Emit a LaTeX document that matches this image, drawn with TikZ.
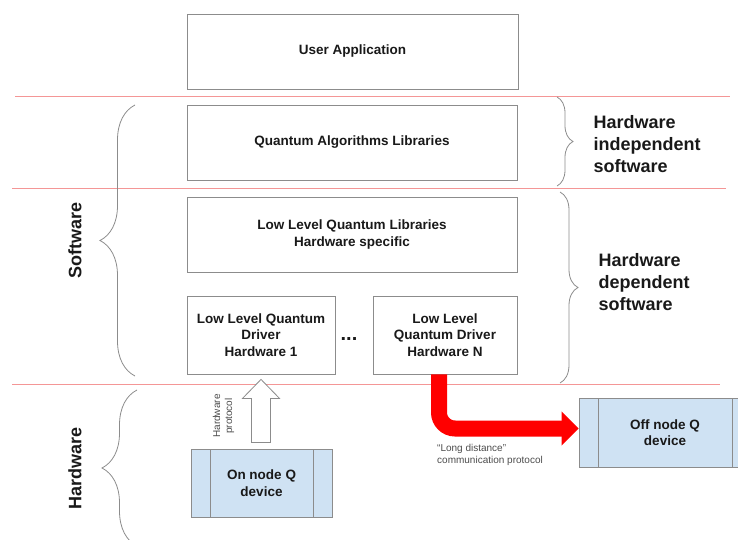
\documentclass[tikz,border=0pt]{standalone}
\usepackage{fontspec}
\setmainfont{Liberation Sans}
\usepackage{tikz}
\usetikzlibrary{calc,arrows.meta,decorations.pathreplacing}

\begin{document}
\begin{tikzpicture}
	[x=1pt,y=-1pt,line cap=butt,
	%Styles
	layer/.style={draw=black!45,line width=0.8pt,fill=white,align=center,text=black!90,
		font=\fontsize{13.5}{16.5}\selectfont\bfseries},
	qdevice/.style={layer,fill=qblue,
		path picture={\draw[black!45,line width=0.8pt]
			([xshift=19pt]path picture bounding box.north west) -- ([xshift=19pt]path picture bounding box.south west)
			([xshift=-19pt]path picture bounding box.north east) -- ([xshift=-19pt]path picture bounding box.south east);}},
	split line/.style={splitred,line width=1pt},
	grouping/.style={decorate,draw=black!45,line width=0.8pt},
	side text/.style={text=black!90,font=\fontsize{18}{22}\selectfont\bfseries,align=left},
	note text/.style={text=black!70,font=\fontsize{10}{12}\selectfont,align=left,inner sep=0pt},
	hwarrow/.style={draw=black!45,line width=0.8pt,fill=white,line join=miter},
	longarrow/.style={red,line width=16pt,rounded corners=16pt,-{Triangle[length=17pt,width=33pt]}}
	]
	
	%Colors
	\definecolor{qblue}{RGB}{207,226,243}	%quantum device boxes
	\definecolor{splitred}{RGB}{244,150,150}	%layer boundaries
	
	\path[use as bounding box,clip] (0,0) rectangle (738,540);
	
	%The graphic
	\node[layer,minimum width=331pt,minimum height=75pt] (app) at (352.5,51.5) {User Application};
	\node[layer,minimum width=330pt,minimum height=75pt] (algo) at (352,142.5) {Quantum Algorithms Libraries};
	\node[layer,minimum width=330pt,minimum height=75pt] (lowlib) at (352,234.5) {Low Level Quantum Libraries\\Hardware specific};
	\node[layer,minimum width=148pt,minimum height=78pt] (drv1) at (261,335) {Low Level Quantum\\Driver\\Hardware 1};
	\node[layer,minimum width=144pt,minimum height=78pt] (drvN) at (445,335) {Low Level\\Quantum Driver\\Hardware N};
	\node[text=black!90,font=\fontsize{20}{20}\selectfont\bfseries] (dots) at (349,339) {...};
	
	\node[qdevice,minimum width=141pt,minimum height=68pt] (onQ) at (261.5,483) {On node Q\\device};
	\node[qdevice,minimum width=172pt,minimum height=69pt] (offQ) at (665,432.5) {Off node Q\\device};
	
	%layer boundaries
	\draw[split line] (15,96.5) -- (730,96.5);
	\draw[split line] (12,188.5) -- (726,188.5);
	\draw[split line] (12,384.5) -- (720,384.5);
	
	%braces
	\draw[grouping,decoration={brace,amplitude=35pt}] (135,376) -- (135,105);
	\draw[grouping,decoration={brace,amplitude=35pt}] (137,546) -- (137,390);
	\draw[grouping,decoration={brace,amplitude=16pt}] (557,97) -- (557,186);
	\draw[grouping,decoration={brace,amplitude=18pt}] (560,192) -- (560,383);
	
	\node[side text,rotate=90] (sw) at (75,240) {Software};
	\node[side text,rotate=90] (hw) at (75,468) {Hardware};
	\node[side text,anchor=west] (indep) at (590,144) {Hardware\\independent\\software};
	\node[side text,anchor=west] (dep) at (595,282) {Hardware\\dependent\\software};
	
	%protocols
	\draw[hwarrow] ([yshift=-5pt]drv1.south) -- ++(18.5,19) -- ++(-9,0) -- ++(0,44) -- ++(-19,0)
		-- ++(0,-44) -- ++(-9,0) -- cycle;
	\node[note text,rotate=90,align=center] (hwprot) at (223.5,416) {Hardware\\protocol};
	
	\draw[longarrow] ([xshift=-6pt]drvN.south) |- ([yshift=4pt]offQ.west);
	\node[note text,anchor=north west] (ldprot) at (437,444) {“Long distance”\\communication protocol};
\end{tikzpicture}
\end{document}
